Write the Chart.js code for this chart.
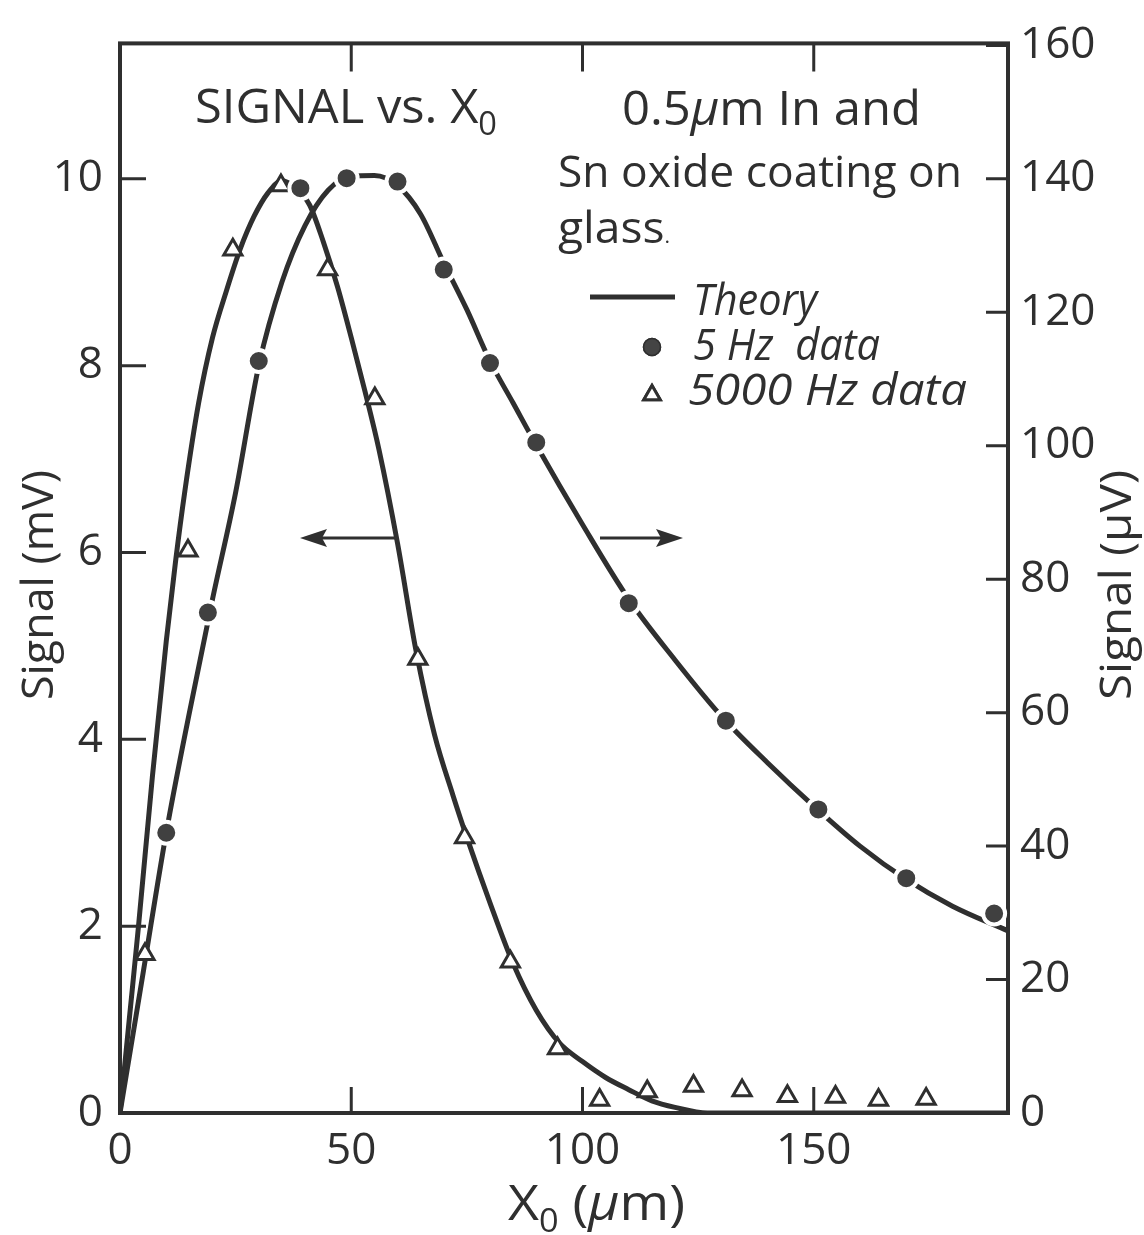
<!DOCTYPE html>
<html>
<head>
<meta charset="utf-8">
<script src="https://cdn.jsdelivr.net/npm/chart.js@4.4.1/dist/chart.umd.min.js"></script>
<style>
  html, body { margin: 0; padding: 0; background: #fff; }
  #wrap { width: 1144px; height: 1235px; }
</style>
</head>
<body>
<div id="wrap"><canvas id="chart" width="1144" height="1235"></canvas></div>
<script>
// --- values (x in µm) ---
// theory curve for the 5000 Hz data, left axis (mV)
const theory5000X = [0, 2, 4, 7, 10, 12, 14, 17, 20, 23, 26, 29, 32, 35, 38, 41, 44, 47, 50, 53, 56, 60, 64, 68, 72, 75, 80, 85, 90, 95, 100, 105, 110, 115, 120, 127, 160, 192];
const theory5000Y = [0, 1.0, 2.0, 3.6, 5.05, 5.9, 6.65, 7.6, 8.3, 8.8, 9.25, 9.6, 9.85, 9.98, 9.9, 9.72, 9.32, 8.85, 8.3, 7.72, 7.1, 6.1, 4.95, 4.05, 3.4, 2.95, 2.25, 1.6, 1.1, 0.75, 0.55, 0.38, 0.25, 0.13, 0.06, 0, 0, 0];
// theory curve for the 5 Hz data, right axis (µV)
const theory5X = [0, 5, 10, 15, 20, 25, 30, 35, 40, 45, 50, 55, 60, 65, 70, 75, 80, 85, 90, 100, 110, 120, 130, 140, 150, 160, 170, 180, 192];
const theory5Y = [0, 21, 42, 60, 77, 93, 112, 124.5, 133, 138.3, 140.4, 140.5, 139, 134.7, 127.4, 120.4, 112.7, 106.4, 100.1, 88.2, 77, 67.9, 59.5, 52.5, 46, 40, 35, 31, 27.3];

// measured points
const data5X = [10, 19, 30, 39, 49, 60, 70, 80, 90, 110, 131, 151, 170, 189];
const data5Y = [42, 75, 112.7, 138.6, 140.1, 139.6, 126.4, 112.4, 100.5, 76.4, 58.8, 45.5, 35.2, 29.9];
const data5000X = [5.4, 14.7, 24.4, 34.8, 44.9, 55.1, 64.4, 74.5, 84.4, 94.6, 103.7, 114, 124, 134.5, 144.3, 154.7, 164, 174.3];
const data5000Y = [1.7, 6.02, 9.24, 9.93, 9.03, 7.65, 4.86, 2.95, 1.62, 0.69, 0.14, 0.23, 0.29, 0.24, 0.18, 0.17, 0.14, 0.15];

// tick labels
const xTicks = [0, 50, 100, 150];
const mvTicks = [0, 2, 4, 6, 8, 10];
const uvTicks = [0, 20, 40, 60, 80, 100, 120, 140, 160];

const INK = '#2f2f2f';
const FONT = '"Open Sans", "DejaVu Sans", sans-serif';

const pts = (xs, ys) => xs.map((x, i) => ({ x: x, y: ys[i] }));
const setTicks = list => scale => { scale.ticks = list.map(v => ({ value: v })); };

// frame, inward tick marks, annotations, legend and arrows
const decorations = {
    id: 'decorations',
    beforeDatasetsDraw(chart) {
        const { ctx, chartArea: a, scales } = chart;
        ctx.save();
        ctx.strokeStyle = INK;
        ctx.lineWidth = 4;
        ctx.strokeRect(a.left, a.top, a.right - a.left, a.bottom - a.top);
        ctx.lineWidth = 3;
        ctx.beginPath();
        xTicks.forEach(v => {
            const px = scales.x.getPixelForValue(v);
            ctx.moveTo(px, a.bottom); ctx.lineTo(px, a.bottom - 26);
            ctx.moveTo(px, a.top); ctx.lineTo(px, a.top + 28);
        });
        mvTicks.forEach(v => {
            const py = scales.y.getPixelForValue(v);
            ctx.moveTo(a.left, py); ctx.lineTo(a.left + 26, py);
        });
        uvTicks.forEach(v => {
            const py = scales.y2.getPixelForValue(v);
            ctx.moveTo(a.right, py); ctx.lineTo(a.right - 22, py);
        });
        ctx.stroke();
        ctx.restore();
    },
    afterDraw(chart) {
        const ctx = chart.ctx;
        ctx.save();
        ctx.fillStyle = INK;
        ctx.strokeStyle = INK;
        ctx.textBaseline = 'alphabetic';

        // draws pieces [text, font, dy] one after another, squeezed or
        // stretched horizontally so the whole run is `w` pixels wide
        const run = (x, y, parts, w) => {
            let total = 0;
            parts.forEach(([t, f]) => { ctx.font = f; total += ctx.measureText(t).width; });
            const sx = w ? w / total : 1;
            ctx.save();
            ctx.translate(x, y);
            ctx.scale(sx, 1);
            let cx = 0;
            parts.forEach(([t, f, dy]) => {
                ctx.font = f;
                ctx.fillText(t, cx, dy || 0);
                cx += ctx.measureText(t).width;
            });
            ctx.restore();
        };
        const big = '48px ' + FONT;
        const mid = '44px ' + FONT;
        const sub = '32px ' + FONT;
        const ital = 'italic 44px ' + FONT;

        run(195, 123, [['SIGNAL vs. X', big], ['0', sub, 12]], 302);
        run(622, 125, [['0.5', big], ['\u00b5', 'italic 48px ' + FONT], ['m In and', big]], 299);
        run(558, 187, [['Sn oxide coating on', mid]], 404);
        run(558, 243, [['glass', mid], ['.', '20px ' + FONT]], 112);

        // axis titles, reading upwards on both sides
        ctx.font = '44px ' + FONT;
        [[38, 'Signal (mV)'], [1116, 'Signal (\u00b5V)']].forEach(([x, t]) => {
            ctx.save();
            ctx.translate(x, 585);
            ctx.rotate(-Math.PI / 2);
            run(-115, 15, [[t, ctx.font]], 230);
            ctx.restore();
        });
        run(508, 1220, [['X', '50px ' + FONT], ['0', sub, 12], [' (', '50px ' + FONT], ['\u00b5', 'italic 50px ' + FONT], ['m)', '50px ' + FONT]], 177);

        // legend
        ctx.lineWidth = 5;
        ctx.beginPath();
        ctx.moveTo(590, 297); ctx.lineTo(675, 297);
        ctx.stroke();
        run(693, 315, [['Theory', ital]], 124);
        ctx.fillStyle = '#444';
        ctx.lineWidth = 1.5;
        Chart.helpers.drawPoint(ctx, { pointStyle: 'circle', radius: 8.5, borderWidth: 1.5 }, 652, 347);
        ctx.fill(); ctx.stroke();
        ctx.fillStyle = INK;
        run(693, 360, [['5 Hz  data', ital]], 187);
        ctx.fillStyle = '#fff';
        ctx.lineWidth = 3;
        Chart.helpers.drawPoint(ctx, { pointStyle: 'triangle', radius: 9.5, borderWidth: 3 }, 652, 395);
        ctx.fill(); ctx.stroke();
        ctx.fillStyle = INK;
        run(688, 405, [['5000 Hz data', ital]], 279);

        // arrows pointing to the axis each curve belongs to
        const arrow = (x0, x1, y) => {
            const d = Math.sign(x1 - x0);
            ctx.lineWidth = 3;
            ctx.beginPath();
            ctx.moveTo(x0, y); ctx.lineTo(x1 - d * 20, y);
            ctx.stroke();
            ctx.beginPath();
            ctx.moveTo(x1, y);
            ctx.lineTo(x1 - d * 27, y - 9);
            ctx.lineTo(x1 - d * 22, y);
            ctx.lineTo(x1 - d * 27, y + 9);
            ctx.closePath();
            ctx.fill();
        };
        arrow(397, 300, 538);
        arrow(600, 683, 538);
        ctx.restore();
    }
};

const tickFont = { family: FONT, size: 44 };

new Chart(document.getElementById('chart'), {
    type: 'scatter',
    data: {
        datasets: [
            {
                label: '5 Hz data',
                data: pts(data5X, data5Y),
                yAxisID: 'y2',
                pointStyle: 'circle',
                pointRadius: 11,
                backgroundColor: '#404040',
                borderColor: '#fff',   // white ring leaves the small gap in the curve seen round each dot
                borderWidth: 4,
                order: 0
            },
            {
                label: '5000 Hz data',
                data: pts(data5000X, data5000Y),
                yAxisID: 'y',
                pointStyle: 'triangle',
                pointRadius: 10.5,
                backgroundColor: '#fff',
                borderColor: INK,
                borderWidth: 3,
                order: 0
            },
            {
                label: 'Theory (5000 Hz)',
                data: pts(theory5000X, theory5000Y),
                yAxisID: 'y',
                showLine: true,
                cubicInterpolationMode: 'monotone',
                borderColor: INK,
                borderWidth: 5,
                pointRadius: 0,
                order: 1
            },
            {
                label: 'Theory (5 Hz)',
                data: pts(theory5X, theory5Y),
                yAxisID: 'y2',
                showLine: true,
                cubicInterpolationMode: 'monotone',
                borderColor: INK,
                borderWidth: 5,
                pointRadius: 0,
                order: 1
            }
        ]
    },
    options: {
        responsive: false,
        animation: false,
        devicePixelRatio: 1,
        layout: { padding: { top: 33, left: 0, right: 0, bottom: 0 } },
        plugins: { legend: { display: false }, tooltip: { enabled: false } },
        scales: {
            x: {
                type: 'linear', min: 0, max: 192,
                afterBuildTicks: setTicks(xTicks),
                afterFit: s => { s.height = 122; },
                grid: { display: false, drawTicks: false },
                border: { display: false },
                ticks: { font: tickFont, color: INK, padding: 12, autoSkip: false, maxRotation: 0 }
            },
            y: {
                position: 'left', min: 0, max: 11.45,
                afterBuildTicks: setTicks(mvTicks),
                afterFit: s => { s.width = 120; },
                grid: { display: false, drawTicks: false },
                border: { display: false },
                ticks: { font: tickFont, color: INK, padding: 17, autoSkip: false }
            },
            y2: {
                position: 'right', min: 0, max: 160.3,
                afterBuildTicks: setTicks(uvTicks),
                afterFit: s => { s.width = 136; },
                grid: { display: false, drawTicks: false },
                border: { display: false },
                ticks: { font: tickFont, color: INK, padding: 12, autoSkip: false }
            }
        }
    },
    plugins: [decorations]
});
</script>
</body>
</html>
